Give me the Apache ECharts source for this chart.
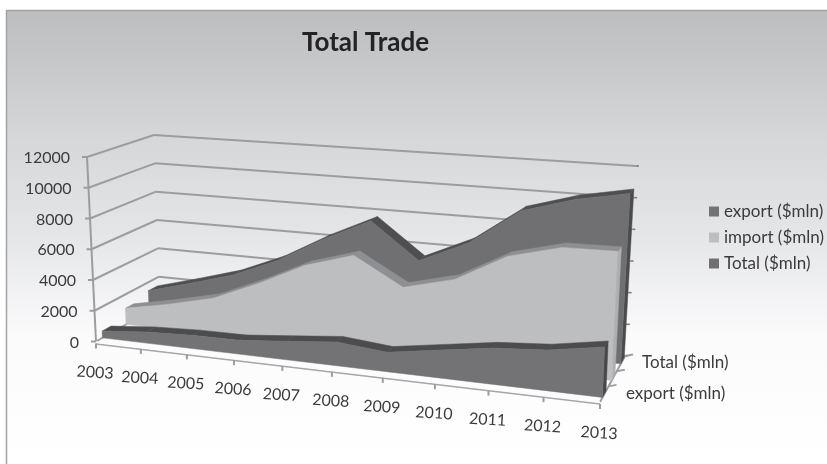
<!DOCTYPE html>
<html><head><meta charset="utf-8">
<style>html,body{margin:0;padding:0;background:#fff}#c{width:827px;height:464px}</style>
<script src="https://cdn.jsdelivr.net/npm/echarts@6/dist/echarts.min.js"></script>
</head><body><div id="c"></div>
<script>
const years = ['2003','2004','2005','2006','2007','2008','2009','2010','2011','2012','2013'];
const yTicks = [0,2000,4000,6000,8000,10000,12000];
const exportVals = [440,720,850,880,1170,1480,1200,1690,2170,2420,2965];
const importVals = [1080,1680,2390,3680,5160,6100,4365,5170,6910,7750,7800];
const totalVals  = [1420,2245,3120,4390,6100,7575,5240,6690,9016,9980,10610];

const G = {left:100, top:100, width:500, height:200};
const C = {F0L:[96,341.5],F1L:[87,157],B0L:[160,305],B1L:[154,135],
           F0R:[600,402],F1R:[608,196],B0R:[625,356],B1R:[636,166]};
const lerp=(a,b,t)=>[a[0]+(b[0]-a[0])*t,a[1]+(b[1]-a[1])*t];
const warp=u=>0.88*u/(1-0.12*u);
function P(u,v,d){
  const w=warp(u);
  const f0=lerp(C.F0L,C.F0R,w), f1=lerp(C.F1L,C.F1R,w);
  const b0=lerp(C.B0L,C.B0R,w), b1=lerp(C.B1L,C.B1R,w);
  return lerp(lerp(f0,f1,v),lerp(b0,b1,v),d);
}
const toUV=p=>[(p[0]-G.left)/G.width,(G.top+G.height-p[1])/G.height];
const line=(a,b,c,w)=>({type:'line',silent:true,shape:{x1:a[0],y1:a[1],x2:b[0],y2:b[1]},style:{stroke:c,lineWidth:w||2}});
const poly=(pts,c)=>({type:'polygon',silent:true,shape:{points:pts},style:{fill:c,stroke:c,lineWidth:0.5}});
const txt=(s,x,y,align,rot,size)=>({type:'text',silent:true,x:x,y:y,rotation:rot||0,style:{text:s,x:0,y:0,align:align,verticalAlign:'middle',fill:'#3b3b3d',font:(size||16)+'px Lato'}});

function walls(params,api){
  if(params.dataIndex!==0) return null;
  const kids=[], grey='#9c9d9f';
  yTicks.forEach(t=>{
    const v=toUV(api.coord([0,t]))[1];
    const a=P(0,v,0), b=P(0,v,1), c=P(1,v,1);
    kids.push(line([a[0]-5,a[1]],a,grey),line(a,b,grey),line(b,c,grey));
    kids.push(line(c,[c[0]+3,c[1]],'#77787a',1.5));
    kids.push(txt(String(t),a[0]-17,a[1]+1,'right'));
  });
  kids.push(line(P(0,0,0),P(0,1,0),grey));
  kids.push(line(P(1,0,0),P(1,0,1),grey));
  kids.push(line([96,344],[600,404],'#a5a6a8',1.5));
  kids.push(line([96,342],[600,402],'#fbfbfb',1.5));
  years.forEach((y,i)=>{
    const u=toUV(api.coord([i,0]))[0];
    const a=P(u,0,0);
    kids.push(line([a[0],a[1]+2],[a[0],a[1]+7],grey));
    kids.push(txt(y,a[0]-1,a[1]+31,'center',-0.06));
  });
  [0.34,0.67,1].forEach(d=>{
    const a=P(1,0,d);
    kids.push(line(a,[a[0]+8,a[1]-1.5],grey));
  });
  kids.push(txt('Total ($mln)',642,363,'left',0,17));
  kids.push(txt('export ($mln)',626,394,'left',0,17));
  return {type:'group',children:kids};
}

function slab(vals,d1,d2,face,top,side){
  return function(params,api){
    if(params.dataIndex!==0) return null;
    const n=vals.length, uv=vals.map((v,i)=>toUV(api.coord([i,v])));
    const base=toUV(api.coord([0,0]))[1];
    const kids=[];
    const last=uv[n-1];
    kids.push(poly([P(last[0],last[1],d1),P(last[0],last[1],d2),P(last[0],base,d2),P(last[0],base,d1)],side));
    for(let i=0;i<n-1;i++){
      const a=uv[i],b=uv[i+1];
      kids.push(poly([P(a[0],a[1],d1),P(a[0],a[1],d2),P(b[0],b[1],d2),P(b[0],b[1],d1)],top));
    }
    const front=uv.map(p=>P(p[0],p[1],d1));
    front.push(P(last[0],base,d1),P(uv[0][0],base,d1));
    kids.push(poly(front,face));
    return {type:'group',children:kids};
  };
}
const ser=(name,vals,ri,color)=>({name:name,type:'custom',renderItem:ri,silent:true,
  data:vals.map((v,i)=>[i,v]),itemStyle:{color:color},encode:{x:0,y:1}});

const chart=echarts.init(document.getElementById('c'),null,{renderer:'canvas'});
chart.setOption({
  animation:false,
  backgroundColor:'#ffffff',
  title:{text:'Total Trade',left:297,top:25,textStyle:{fontFamily:'Lato',fontWeight:'bold',fontSize:26,color:'#232325'}},
  legend:{data:['export ($mln)','import ($mln)','Total ($mln)'],orient:'vertical',left:704,top:198,itemWidth:10,itemHeight:10,itemGap:9,
    selectedMode:false,icon:'rect',textStyle:{fontFamily:'Lato',fontSize:17,color:'#3b3b3d'}},
  graphic:[
    {type:'rect',z:-10,shape:{x:6,y:10,width:821,height:454},style:{fill:new echarts.graphic.LinearGradient(0,0,0,1,[
      {offset:0,color:'#bcbdbf'},{offset:0.27,color:'#d5d6d8'},{offset:0.5,color:'#e5e6e8'},{offset:0.72,color:'#fbfbfc'},{offset:1,color:'#ffffff'}])}},
    {type:'line',z:-9,shape:{x1:6,y1:10.5,x2:827,y2:10.5},style:{stroke:'#a2a3a5',lineWidth:1.5}},
    {type:'line',z:-9,shape:{x1:6.5,y1:10,x2:6.5,y2:464},style:{stroke:'#a2a3a5',lineWidth:1.5}}
  ],
  grid:G,
  xAxis:{type:'category',data:years,boundaryGap:false,show:false},
  yAxis:{type:'value',min:0,max:12000,interval:2000,show:false},
  series:[
    ser('walls',[0],walls,'#9c9d9f'),
    ser('Total ($mln)',totalVals,slab(totalVals,0.83,0.97,'#707073','#4f4f52','#4b4b4d'),'#707073'),
    ser('import ($mln)',importVals,slab(importVals,0.47,0.6,'#bdbec0','#8e8f92','#aeafb1'),'#bdbec0'),
    ser('export ($mln)',exportVals,slab(exportVals,0.1,0.24,'#737376','#4c4c4f','#47474a'),'#737376')
  ]
});
</script></body></html>
